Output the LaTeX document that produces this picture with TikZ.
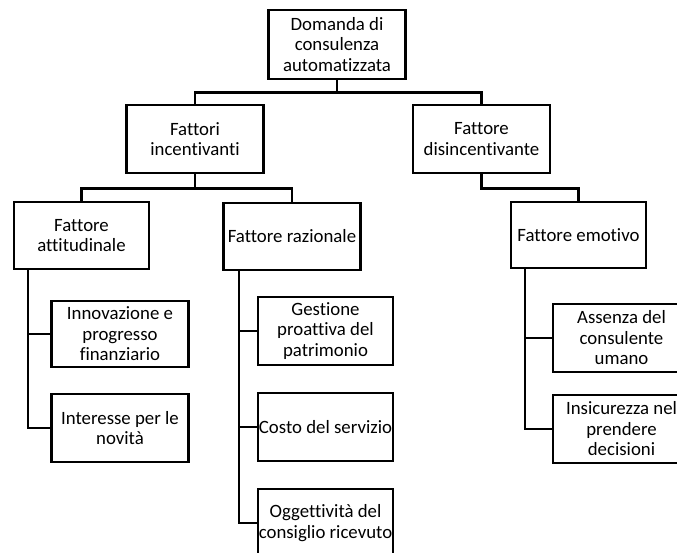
\documentclass[tikz,border=0pt]{standalone}
\usepackage{fontspec}
\setmainfont{Carlito}[Ligatures=NoCommon]
\begin{document}
\begin{tikzpicture}[x=1pt,y=-1pt,
  box/.style={draw=black,line width=2.6pt,inner sep=0pt,align=center,font=\fontsize{18.8}{20.5}\selectfont,minimum height=68pt},
  w135/.style={minimum width=135pt},
  w137/.style={minimum width=137pt},
  conn/.style={draw=black,line width=2.6pt}]
\useasboundingbox (0,0) rectangle (677,553);
\fill[white] (0,0) rectangle (677,553);
\clip (0,0) rectangle (677,553);
\node[box,w137,minimum height=69pt] (top) at (337,44.5) {Domanda di\\consulenza\\automatizzata};
\node[box,w137] (inc) at (195,139) {Fattori\\incentivanti};
\node[box,w137] (dis) at (481.5,139) {Fattore\\disincentivante};
\node[box,w135,minimum height=67pt] (att) at (81.5,235.5) {Fattore\\attitudinale};
\node[box,w137,minimum height=67pt] (raz) at (292,236.5) {Fattore razionale};
\node[box,w135,minimum height=66pt] (emo) at (578.5,235) {Fattore emotivo};
\node[box,w137,minimum height=66pt] (inn) at (120,334) {Innovazione e\\progresso\\finanziario};
\node[box,w137] (int) at (120,428) {Interesse per le\\novità};
\node[box,w135] (ges) at (325.5,331) {Gestione\\proattiva del\\patrimonio};
\node[box,w135] (cos) at (325.5,427) {Costo del servizio};
\node[box,w135] (ogg) at (325.5,523) {Oggettività del\\consiglio ricevuto};
\node[box,w137] (ass) at (621.5,338) {Assenza del\\consulente\\umano};
\node[box,w137] (ins) at (621.5,429) {Insicurezza nel\\prendere\\decisioni};
\draw[conn] (top.south) -- ++(0,12) -| (inc.north);
\draw[conn] (top.south) -- ++(0,12) -| (dis.north);
\draw[conn] (inc.south) -- ++(0,14) -| (att.north);
\draw[conn] (inc.south) -- ++(0,14) -| (raz.north);
\draw[conn] (dis.south) -- ++(0,14) -| (emo.north);
\draw[conn] ([xshift=-53.5pt]att.south) |- (inn.west);
\draw[conn] ([xshift=-53.5pt]att.south) |- (int.west);
\draw[conn] ([xshift=-53pt]raz.south) |- (ges.west);
\draw[conn] ([xshift=-53pt]raz.south) |- (cos.west);
\draw[conn] ([xshift=-53pt]raz.south) |- (ogg.west);
\draw[conn] ([xshift=-53.5pt]emo.south) |- (ass.west);
\draw[conn] ([xshift=-53.5pt]emo.south) |- (ins.west);
\end{tikzpicture}
\end{document}
